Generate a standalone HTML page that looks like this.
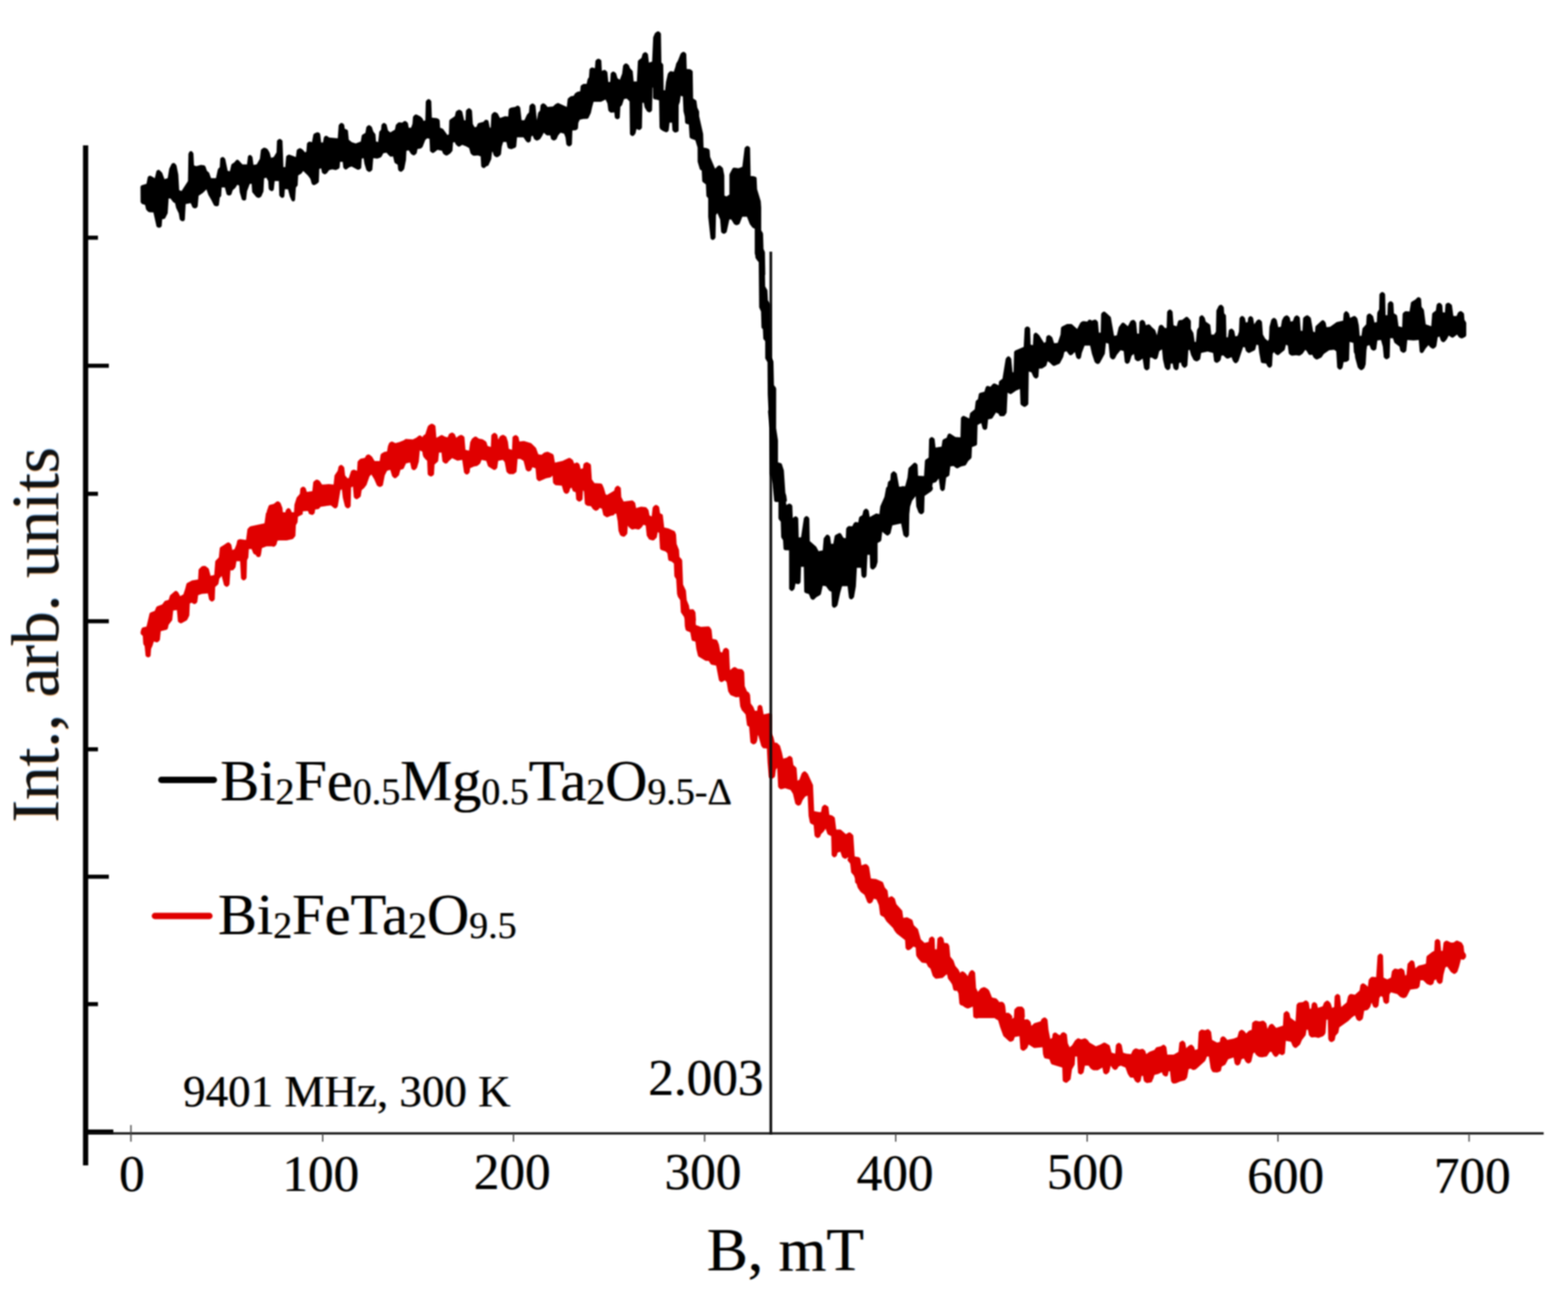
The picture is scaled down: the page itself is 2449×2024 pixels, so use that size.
<!DOCTYPE html>
<html>
<head>
<meta charset="utf-8">
<title>EPR spectra</title>
<style>
html,body{margin:0;padding:0;background:#fff;}
body{width:2449px;height:2024px;overflow:hidden;position:relative;font-family:"Liberation Serif","DejaVu Serif",serif;color:#000;}
svg{position:absolute;left:0;top:0;}
.t{position:absolute;white-space:nowrap;line-height:1;margin:0;padding:0;filter:blur(0.8px);text-shadow:-1.3px 0 0 rgba(255,130,0,0.55),1.3px 0 0 rgba(0,130,255,0.55);}
.tick{font-size:80px;}
sub{font-size:0.65em;vertical-align:baseline;position:relative;top:0.1em;line-height:0;}
</style>
</head>
<body>
<svg width="2449" height="2024" viewBox="0 0 2449 2024">
<defs>
<filter id="b1" x="0" y="0" width="2449" height="2024" filterUnits="userSpaceOnUse" color-interpolation-filters="sRGB">
<feGaussianBlur in="SourceGraphic" stdDeviation="0.9"/>
</filter>
</defs>
<rect width="2449" height="2024" fill="#fff"/>
<!-- x axis -->
<rect x="134" y="1768.3" width="2277" height="3.5" fill="#111" filter="url(#b1)"/>
<!-- x ticks -->
<g fill="#444" filter="url(#b1)">
<rect x="203.5" y="1757" width="2" height="26"/>
<rect x="503" y="1770" width="2" height="13"/>
<rect x="801" y="1770" width="2" height="13"/>
<rect x="1099.5" y="1770" width="2" height="13"/>
<rect x="1398" y="1770" width="2" height="13"/>
<rect x="1697" y="1770" width="2" height="13"/>
<rect x="1995" y="1770" width="2" height="13"/>
<rect x="2293.5" y="1770" width="2" height="13"/>
</g>
<path fill="#e00000" fill-rule="evenodd" filter="url(#b1)" d="M223.0 993.0 L223.7 1005.0 L224.3 1006.7 L225.9 1009.0 L227.4 1024.1 L227.9 1024.9 L229.9 1026.3 L232.0 1026.8 L234.2 1025.5 L235.2 1024.2 L236.0 1013.2 L238.2 1008.6 L240.3 1001.7 L243.7 1003.1 L245.3 1003.3 L246.8 1002.6 L248.7 1001.0 L249.8 999.0 L251.1 985.8 L260.1 983.4 L262.0 981.9 L263.4 975.7 L269.0 968.5 L270.6 953.4 L276.3 952.7 L277.8 970.2 L278.7 971.5 L281.1 973.3 L283.2 973.5 L291.4 969.0 L292.6 967.7 L295.7 961.3 L296.5 942.6 L299.4 941.2 L302.0 942.9 L303.7 943.4 L305.4 942.9 L307.5 941.3 L308.2 939.8 L309.5 929.6 L315.4 927.4 L324.6 926.8 L326.5 935.8 L327.1 937.0 L329.8 939.3 L331.5 939.5 L333.0 938.8 L334.9 937.1 L335.4 935.5 L336.1 916.7 L340.3 913.0 L341.1 911.9 L342.6 903.7 L346.2 899.4 L349.9 913.7 L352.2 915.8 L353.7 916.4 L355.3 916.2 L357.4 914.6 L358.5 912.5 L359.9 890.8 L362.8 890.7 L364.4 890.2 L367.2 887.1 L367.9 885.6 L369.3 876.4 L375.0 876.4 L376.4 902.4 L376.9 903.9 L378.8 905.7 L380.3 906.4 L382.0 906.1 L384.0 904.6 L385.1 902.3 L385.8 875.1 L387.9 870.6 L388.7 857.6 L393.0 857.6 L395.4 863.8 L396.3 864.9 L400.0 866.9 L400.4 868.5 L401.5 869.6 L403.0 870.0 L405.0 869.9 L406.3 869.2 L407.1 867.8 L407.9 864.6 L409.1 856.1 L416.3 853.3 L424.9 853.3 L427.0 854.0 L428.4 853.8 L430.7 851.9 L431.9 849.9 L433.3 844.5 L436.2 844.0 L447.8 843.9 L456.6 842.0 L457.8 841.5 L461.4 836.9 L462.1 820.2 L464.7 815.8 L465.4 807.0 L472.3 803.4 L473.0 801.9 L472.7 800.0 L473.5 798.6 L480.6 797.9 L481.8 799.8 L482.1 801.5 L482.9 802.7 L487.6 804.2 L489.0 803.8 L491.4 801.4 L492.2 795.7 L497.5 794.9 L498.7 794.0 L500.8 791.4 L516.7 789.2 L521.8 793.5 L523.4 794.1 L525.0 793.7 L526.8 792.1 L527.6 790.4 L531.7 765.7 L533.9 764.1 L535.4 777.2 L538.7 790.4 L539.7 792.0 L542.1 793.8 L544.5 793.8 L547.1 791.6 L547.7 790.0 L548.4 761.2 L551.2 759.7 L552.6 775.7 L553.1 777.2 L555.8 779.5 L558.2 779.5 L562.5 776.3 L563.4 775.1 L564.9 765.5 L568.7 762.3 L572.5 757.2 L577.1 744.0 L580.0 741.0 L584.4 748.3 L588.8 758.2 L591.4 760.1 L593.0 760.6 L594.6 760.2 L596.8 759.0 L598.0 757.7 L600.9 742.6 L604.5 735.2 L609.5 733.8 L612.5 743.8 L615.4 746.6 L616.8 747.1 L618.9 746.3 L623.1 742.3 L625.4 733.8 L629.0 732.7 L630.5 731.8 L634.1 723.7 L640.5 722.3 L642.7 731.9 L643.7 733.0 L645.7 734.2 L648.1 734.0 L651.2 730.8 L654.1 721.1 L655.7 703.6 L659.2 705.0 L659.9 706.7 L660.2 710.1 L661.6 713.9 L663.0 715.2 L664.2 717.0 L667.1 719.4 L668.0 740.5 L669.1 742.2 L672.6 744.2 L674.7 743.7 L676.8 742.2 L677.9 740.7 L678.7 725.5 L683.5 721.3 L684.4 720.1 L685.7 706.8 L689.5 706.8 L691.0 720.3 L691.9 721.6 L694.7 723.8 L696.3 724.1 L698.7 723.2 L700.2 721.1 L706.1 715.4 L714.4 719.5 L721.9 718.3 L724.8 738.0 L727.2 740.4 L728.7 741.1 L730.3 740.9 L733.0 738.6 L733.6 737.2 L734.2 731.2 L740.5 728.4 L744.9 727.7 L746.3 727.1 L749.9 724.0 L752.2 718.3 L759.4 719.7 L761.9 727.3 L762.6 728.5 L770.5 733.6 L771.9 734.1 L774.0 733.4 L776.6 730.8 L778.1 719.7 L785.3 718.3 L788.2 721.4 L790.9 735.9 L791.4 737.2 L794.5 739.9 L795.8 740.5 L802.2 740.5 L805.9 737.8 L806.8 736.5 L808.4 716.8 L812.7 716.8 L817.7 719.7 L821.3 733.7 L824.0 735.9 L824.8 736.3 L826.5 736.3 L829.1 734.7 L830.0 733.7 L831.4 729.8 L836.4 731.2 L837.9 748.1 L840.6 751.1 L842.7 751.5 L852.9 747.1 L860.1 745.5 L863.1 742.8 L863.7 753.1 L864.1 754.5 L866.6 757.1 L867.8 757.8 L877.5 758.6 L880.1 767.8 L881.1 769.3 L882.8 770.7 L885.1 771.3 L886.6 770.7 L888.2 769.3 L889.2 767.7 L890.5 762.9 L892.6 761.5 L894.7 766.7 L896.1 767.7 L899.1 768.7 L899.9 779.7 L900.8 781.0 L903.6 783.3 L906.1 783.3 L908.9 781.0 L909.8 779.7 L910.6 765.8 L912.1 767.4 L913.4 785.9 L914.0 787.6 L914.7 788.2 L917.5 790.0 L922.9 790.6 L926.2 795.2 L929.6 797.5 L931.2 797.7 L934.6 796.1 L936.5 793.2 L940.1 794.6 L942.3 804.2 L943.4 805.3 L947.3 807.7 L948.8 807.8 L954.1 805.4 L958.2 804.8 L959.4 803.8 L960.0 802.6 L962.5 802.1 L964.7 813.7 L966.0 829.0 L968.5 835.4 L970.2 837.1 L972.9 838.1 L974.6 838.3 L976.1 837.5 L979.4 834.0 L979.8 832.6 L980.5 820.9 L982.9 823.9 L986.4 826.7 L987.8 827.0 L992.0 825.9 L997.0 827.0 L998.4 826.7 L1001.8 824.0 L1005.0 819.4 L1008.5 820.8 L1010.1 836.6 L1013.5 842.0 L1014.7 842.7 L1019.1 844.1 L1021.4 843.8 L1025.7 839.5 L1027.3 830.9 L1029.4 832.3 L1030.8 856.2 L1031.2 857.6 L1032.8 858.9 L1039.5 861.2 L1042.3 863.9 L1043.6 873.6 L1044.3 875.2 L1045.8 876.1 L1048.9 877.0 L1052.5 879.9 L1053.2 899.2 L1053.7 900.7 L1056.1 904.5 L1057.5 928.0 L1058.3 930.0 L1058.5 931.6 L1062.3 937.2 L1063.4 956.2 L1068.4 963.5 L1069.1 967.1 L1069.6 977.8 L1070.9 983.8 L1072.5 985.3 L1078.1 987.6 L1080.3 999.5 L1081.4 1000.7 L1086.1 1002.0 L1087.6 1013.7 L1090.1 1023.9 L1090.8 1025.2 L1102.0 1032.1 L1107.0 1032.3 L1109.9 1036.9 L1111.1 1038.0 L1118.5 1039.5 L1122.9 1062.4 L1125.4 1064.9 L1126.9 1065.3 L1128.4 1064.8 L1132.2 1062.5 L1134.9 1065.2 L1137.3 1079.8 L1140.9 1085.4 L1149.5 1089.0 L1154.5 1088.5 L1156.1 1103.2 L1158.5 1109.0 L1164.5 1115.8 L1166.7 1132.3 L1167.5 1133.4 L1170.0 1134.9 L1172.0 1158.7 L1172.5 1160.0 L1175.6 1162.2 L1177.2 1162.6 L1178.7 1162.1 L1181.0 1160.4 L1182.7 1156.5 L1183.7 1148.0 L1184.5 1148.9 L1189.0 1165.0 L1191.8 1168.5 L1197.7 1169.1 L1198.8 1190.6 L1200.8 1212.9 L1201.2 1214.3 L1202.3 1215.3 L1205.5 1216.1 L1207.2 1215.6 L1209.8 1213.7 L1210.5 1212.2 L1211.8 1202.0 L1213.9 1199.2 L1215.3 1228.2 L1215.7 1229.6 L1217.7 1231.7 L1219.1 1232.5 L1220.7 1232.5 L1226.2 1230.9 L1234.8 1233.7 L1238.5 1239.7 L1242.2 1255.2 L1245.6 1258.1 L1247.3 1258.3 L1250.2 1256.9 L1251.1 1255.7 L1253.7 1249.4 L1257.7 1243.9 L1261.4 1242.4 L1262.9 1274.2 L1265.0 1284.7 L1266.4 1286.2 L1270.8 1288.4 L1272.2 1304.5 L1272.7 1305.9 L1275.1 1308.1 L1276.6 1308.7 L1278.3 1308.4 L1280.4 1307.3 L1281.3 1306.0 L1282.4 1302.8 L1286.4 1298.7 L1289.5 1294.2 L1292.4 1302.4 L1293.5 1303.4 L1298.2 1305.7 L1298.9 1334.8 L1299.3 1336.2 L1301.6 1338.5 L1303.0 1338.9 L1304.4 1338.6 L1306.8 1336.8 L1308.3 1331.6 L1312.6 1330.2 L1315.1 1337.9 L1316.3 1339.4 L1319.8 1341.2 L1321.3 1340.9 L1324.1 1338.9 L1325.0 1339.9 L1323.8 1341.4 L1323.6 1343.1 L1324.3 1344.5 L1327.9 1348.7 L1329.4 1362.6 L1333.7 1367.5 L1335.2 1372.1 L1335.6 1378.1 L1336.6 1379.5 L1337.7 1380.0 L1339.7 1386.5 L1344.2 1392.9 L1350.2 1397.6 L1354.7 1409.1 L1357.1 1411.0 L1359.3 1411.1 L1362.4 1409.0 L1364.7 1403.4 L1368.9 1404.8 L1372.6 1413.6 L1374.5 1427.7 L1375.0 1429.1 L1376.1 1430.0 L1380.5 1432.2 L1384.6 1439.1 L1394.7 1449.3 L1397.3 1454.0 L1400.5 1457.9 L1413.6 1468.2 L1414.4 1480.7 L1416.4 1483.2 L1417.7 1484.0 L1419.9 1483.8 L1422.6 1482.2 L1426.6 1478.3 L1430.2 1479.7 L1430.9 1491.8 L1431.4 1493.3 L1433.9 1497.1 L1439.3 1503.1 L1440.7 1503.6 L1446.7 1504.2 L1449.7 1509.9 L1453.2 1512.8 L1456.9 1524.3 L1460.1 1527.6 L1460.8 1528.2 L1462.6 1528.5 L1472.3 1527.2 L1476.9 1523.0 L1479.1 1521.5 L1480.7 1528.6 L1484.2 1533.1 L1487.1 1537.6 L1489.0 1545.8 L1490.8 1547.3 L1495.0 1547.4 L1497.0 1551.5 L1498.4 1567.1 L1499.5 1569.1 L1500.7 1569.9 L1503.1 1570.5 L1507.4 1573.4 L1510.9 1575.0 L1512.9 1574.8 L1519.4 1571.9 L1520.1 1587.1 L1520.5 1588.6 L1521.6 1589.6 L1525.6 1590.7 L1527.6 1590.0 L1553.5 1590.0 L1554.9 1591.3 L1558.9 1593.6 L1562.0 1603.9 L1567.1 1618.1 L1576.4 1626.4 L1578.7 1627.0 L1582.3 1625.5 L1583.3 1624.2 L1585.0 1619.6 L1592.2 1618.2 L1593.7 1637.8 L1594.8 1639.2 L1597.4 1640.9 L1599.8 1640.8 L1603.8 1637.4 L1604.7 1636.2 L1606.6 1631.2 L1614.3 1636.3 L1615.6 1636.8 L1628.2 1635.5 L1629.0 1645.9 L1630.5 1651.0 L1631.4 1652.4 L1632.9 1653.1 L1639.0 1654.2 L1641.4 1660.7 L1642.7 1662.3 L1659.1 1667.2 L1659.8 1687.0 L1660.3 1688.5 L1661.5 1689.6 L1664.5 1691.0 L1665.9 1690.9 L1667.1 1690.3 L1671.3 1686.6 L1672.1 1685.5 L1674.3 1670.0 L1678.5 1662.8 L1679.3 1649.9 L1682.2 1649.9 L1683.7 1675.0 L1684.3 1676.2 L1687.1 1677.9 L1688.8 1677.9 L1689.6 1677.6 L1692.3 1675.3 L1694.5 1664.3 L1700.2 1664.3 L1703.1 1668.5 L1706.6 1671.0 L1708.3 1671.5 L1714.6 1671.4 L1721.8 1667.2 L1723.3 1675.3 L1724.3 1676.5 L1727.1 1677.9 L1729.3 1677.2 L1732.5 1674.3 L1734.8 1664.3 L1738.0 1668.9 L1740.5 1670.8 L1742.1 1671.0 L1744.9 1669.6 L1747.0 1665.7 L1750.6 1664.3 L1757.8 1667.2 L1761.3 1676.9 L1764.1 1681.6 L1765.9 1682.9 L1770.0 1683.0 L1773.0 1688.7 L1776.4 1690.9 L1778.1 1690.9 L1778.9 1690.5 L1781.5 1688.2 L1783.0 1680.2 L1785.2 1680.2 L1786.4 1687.5 L1787.7 1689.5 L1791.2 1691.5 L1797.5 1690.6 L1799.5 1689.2 L1800.0 1686.7 L1801.2 1685.1 L1803.1 1678.8 L1809.1 1677.2 L1814.6 1674.5 L1816.4 1678.9 L1819.7 1681.1 L1821.1 1681.2 L1823.1 1680.4 L1824.0 1679.3 L1825.4 1673.0 L1827.3 1673.0 L1829.1 1688.8 L1831.3 1691.7 L1833.5 1692.2 L1837.1 1691.8 L1843.2 1688.9 L1850.8 1687.0 L1854.1 1683.0 L1856.4 1670.1 L1859.2 1668.7 L1863.1 1671.1 L1864.9 1671.1 L1867.8 1670.0 L1882.2 1657.1 L1885.2 1650.0 L1888.0 1650.0 L1890.8 1668.2 L1893.0 1673.0 L1894.7 1674.4 L1901.0 1675.1 L1905.2 1673.6 L1906.4 1672.7 L1907.1 1671.4 L1908.2 1665.8 L1913.8 1662.8 L1918.3 1654.3 L1926.7 1651.4 L1928.4 1661.0 L1930.7 1663.5 L1933.1 1664.1 L1934.6 1663.5 L1936.9 1661.4 L1939.2 1654.3 L1942.7 1652.9 L1945.7 1658.5 L1948.3 1660.4 L1949.1 1660.7 L1950.8 1660.7 L1953.3 1659.3 L1954.5 1657.4 L1957.2 1645.6 L1959.3 1643.5 L1961.9 1647.4 L1965.1 1650.1 L1966.7 1650.8 L1971.1 1651.3 L1978.2 1649.9 L1979.4 1648.8 L1983.3 1642.7 L1985.9 1642.8 L1988.3 1647.3 L1990.2 1649.6 L1991.5 1650.5 L1993.1 1650.6 L1994.6 1649.9 L1998.2 1645.7 L2001.6 1647.8 L2003.4 1647.8 L2006.3 1645.8 L2006.9 1644.2 L2008.3 1625.5 L2016.2 1626.9 L2019.2 1634.0 L2022.1 1636.5 L2024.6 1636.4 L2030.5 1631.2 L2033.6 1623.9 L2039.2 1616.8 L2040.7 1608.2 L2042.8 1608.2 L2044.4 1616.8 L2047.6 1619.9 L2049.3 1620.2 L2053.9 1619.8 L2059.4 1621.0 L2066.6 1618.2 L2069.2 1615.6 L2070.3 1613.0 L2071.7 1592.4 L2073.8 1592.5 L2074.6 1622.6 L2075.4 1624.6 L2076.9 1626.5 L2079.4 1627.5 L2080.8 1627.3 L2084.2 1624.9 L2084.8 1623.5 L2086.0 1617.5 L2090.2 1613.1 L2091.9 1604.4 L2105.9 1594.6 L2111.8 1588.8 L2116.2 1585.8 L2118.7 1591.9 L2120.2 1593.5 L2123.4 1594.7 L2124.9 1594.1 L2127.5 1592.3 L2128.7 1590.3 L2130.7 1578.6 L2135.5 1577.4 L2137.0 1576.4 L2140.0 1572.8 L2142.2 1565.7 L2144.5 1571.5 L2145.6 1572.9 L2147.8 1573.8 L2149.3 1573.9 L2150.7 1573.2 L2152.5 1571.6 L2153.1 1570.2 L2154.4 1558.4 L2156.6 1555.6 L2159.4 1557.0 L2160.7 1564.3 L2161.4 1565.8 L2164.3 1567.8 L2166.1 1567.8 L2168.8 1566.0 L2169.5 1564.8 L2170.2 1552.9 L2172.4 1549.8 L2182.3 1552.6 L2186.9 1556.9 L2191.4 1558.7 L2193.8 1558.6 L2196.0 1557.4 L2197.4 1556.1 L2202.7 1545.5 L2213.8 1544.0 L2216.4 1541.8 L2217.2 1540.2 L2218.5 1531.1 L2222.8 1531.1 L2228.6 1536.8 L2233.1 1538.5 L2234.7 1538.7 L2238.1 1536.9 L2239.0 1535.5 L2240.1 1531.1 L2243.0 1529.6 L2244.2 1533.1 L2245.1 1534.5 L2247.5 1536.4 L2250.0 1536.4 L2252.2 1534.7 L2253.0 1533.5 L2254.5 1522.3 L2257.4 1510.9 L2260.3 1509.5 L2266.1 1518.0 L2270.6 1520.9 L2272.8 1520.7 L2275.5 1518.6 L2276.4 1517.3 L2279.0 1509.3 L2281.9 1498.0 L2285.0 1498.9 L2286.4 1498.6 L2287.5 1497.8 L2289.7 1494.7 L2289.7 1490.8 L2286.9 1486.4 L2285.9 1477.3 L2282.9 1471.9 L2276.2 1468.9 L2274.7 1469.0 L2270.1 1472.0 L2266.0 1472.0 L2260.6 1469.3 L2258.1 1469.2 L2255.4 1471.2 L2254.6 1472.5 L2253.1 1485.0 L2250.9 1485.0 L2249.4 1469.6 L2247.1 1467.1 L2244.7 1466.5 L2243.2 1467.1 L2240.9 1469.6 L2240.1 1485.0 L2237.0 1486.6 L2228.9 1492.8 L2228.0 1494.1 L2227.1 1505.1 L2222.7 1506.6 L2215.7 1508.1 L2210.6 1512.3 L2209.1 1502.7 L2208.3 1501.5 L2206.3 1500.0 L2204.1 1499.8 L2202.9 1500.6 L2199.1 1504.4 L2198.4 1505.5 L2196.7 1522.5 L2194.8 1523.8 L2193.3 1515.6 L2192.4 1514.5 L2189.7 1512.4 L2188.1 1512.1 L2183.9 1513.7 L2179.8 1512.7 L2178.3 1512.8 L2177.0 1513.5 L2174.0 1516.7 L2172.4 1526.7 L2166.7 1529.6 L2160.9 1526.7 L2160.1 1492.6 L2159.3 1491.3 L2157.4 1489.5 L2155.1 1489.2 L2152.3 1491.4 L2151.5 1493.3 L2149.4 1526.0 L2142.7 1525.5 L2141.2 1526.3 L2138.6 1528.9 L2137.7 1530.6 L2136.4 1541.1 L2133.3 1538.1 L2129.8 1535.8 L2128.2 1535.7 L2126.7 1536.5 L2125.0 1538.3 L2124.7 1539.2 L2123.4 1546.9 L2116.2 1553.4 L2109.9 1552.2 L2107.9 1553.1 L2106.1 1554.9 L2105.3 1556.4 L2103.3 1565.6 L2094.7 1572.8 L2093.1 1555.3 L2092.2 1554.0 L2089.7 1552.3 L2087.5 1552.7 L2084.9 1555.3 L2084.5 1556.7 L2083.8 1572.8 L2080.2 1573.9 L2079.9 1571.7 L2078.1 1566.5 L2075.2 1563.5 L2073.1 1562.6 L2071.6 1563.0 L2068.1 1565.7 L2065.8 1571.4 L2058.4 1574.1 L2056.9 1567.7 L2054.0 1565.3 L2051.6 1565.2 L2050.3 1566.1 L2048.7 1568.3 L2047.9 1575.0 L2045.7 1575.7 L2044.1 1565.8 L2041.1 1562.7 L2038.6 1562.5 L2034.9 1564.9 L2028.2 1565.8 L2026.9 1566.7 L2025.0 1569.3 L2023.4 1595.2 L2015.5 1589.4 L2013.9 1582.3 L2011.1 1579.4 L2008.9 1579.1 L2005.7 1581.4 L2004.8 1582.8 L2003.8 1601.8 L1993.2 1605.3 L1988.4 1599.8 L1987.0 1599.0 L1985.4 1599.1 L1982.4 1601.0 L1979.5 1606.7 L1977.9 1598.2 L1974.3 1594.5 L1972.1 1594.1 L1967.2 1595.2 L1961.9 1594.0 L1960.4 1594.1 L1957.1 1595.9 L1955.7 1597.5 L1955.0 1608.2 L1950.7 1609.7 L1946.3 1613.9 L1943.8 1610.8 L1941.0 1608.8 L1939.6 1608.3 L1938.0 1608.5 L1935.0 1611.1 L1932.6 1619.7 L1926.8 1621.9 L1916.8 1624.0 L1914.9 1621.4 L1912.3 1619.1 L1909.9 1618.5 L1908.4 1619.1 L1906.4 1620.9 L1905.9 1622.3 L1905.3 1626.9 L1901.0 1628.3 L1893.1 1624.0 L1891.6 1611.5 L1888.7 1608.2 L1887.5 1607.4 L1886.1 1607.3 L1882.3 1608.9 L1876.6 1607.8 L1873.2 1610.2 L1872.1 1612.4 L1870.7 1638.4 L1866.4 1639.8 L1864.9 1634.9 L1861.8 1631.8 L1860.2 1631.4 L1858.6 1632.0 L1855.8 1634.0 L1852.7 1636.9 L1851.2 1628.4 L1848.3 1625.5 L1846.2 1625.2 L1842.8 1627.6 L1842.0 1628.8 L1840.5 1642.7 L1833.1 1647.1 L1823.2 1647.0 L1821.7 1635.2 L1819.4 1632.4 L1817.4 1631.6 L1816.0 1631.9 L1813.1 1634.1 L1806.4 1635.6 L1805.2 1636.6 L1803.0 1639.8 L1795.5 1642.5 L1790.2 1646.2 L1788.7 1641.3 L1785.8 1638.4 L1784.3 1637.9 L1779.4 1639.0 L1774.4 1637.3 L1772.4 1637.8 L1769.4 1639.9 L1766.4 1646.2 L1759.1 1645.5 L1754.2 1644.1 L1751.9 1631.9 L1749.7 1629.5 L1747.7 1628.6 L1745.6 1629.3 L1743.7 1631.0 L1742.8 1632.4 L1741.8 1645.5 L1736.2 1644.1 L1733.3 1633.1 L1732.2 1631.9 L1726.2 1628.5 L1723.9 1628.2 L1718.8 1631.2 L1711.7 1634.0 L1701.8 1628.3 L1698.7 1624.0 L1695.7 1621.9 L1694.4 1621.4 L1688.7 1623.2 L1684.5 1621.6 L1682.9 1621.8 L1679.0 1625.1 L1674.4 1632.4 L1670.7 1635.4 L1667.8 1629.4 L1666.3 1615.8 L1665.4 1614.5 L1662.7 1612.4 L1661.2 1612.1 L1658.1 1613.1 L1655.5 1616.7 L1652.8 1615.4 L1649.4 1612.7 L1647.2 1612.6 L1645.2 1613.8 L1644.1 1615.1 L1643.3 1621.0 L1640.4 1622.5 L1637.6 1608.2 L1636.1 1592.7 L1635.3 1591.5 L1632.9 1589.2 L1631.3 1588.9 L1629.7 1589.4 L1626.8 1591.6 L1625.3 1595.1 L1615.3 1598.1 L1610.9 1602.3 L1609.7 1596.2 L1608.6 1594.5 L1606.2 1592.4 L1604.7 1591.7 L1600.1 1592.2 L1600.0 1590.0 L1600.7 1587.9 L1600.2 1577.2 L1599.5 1575.4 L1597.4 1573.0 L1596.0 1572.0 L1590.4 1571.9 L1588.5 1572.6 L1584.7 1576.0 L1584.2 1577.5 L1583.5 1589.4 L1580.7 1590.8 L1580.5 1590.0 L1581.1 1588.6 L1580.9 1586.9 L1577.4 1583.0 L1574.3 1581.6 L1571.2 1582.0 L1570.0 1571.3 L1569.1 1568.2 L1568.4 1567.0 L1566.6 1565.2 L1565.0 1564.4 L1560.3 1564.8 L1559.4 1562.8 L1556.0 1559.2 L1549.4 1557.8 L1545.0 1547.0 L1542.8 1544.4 L1538.1 1541.7 L1536.0 1541.7 L1531.8 1543.4 L1527.4 1549.0 L1524.5 1543.1 L1523.0 1519.0 L1520.5 1516.0 L1518.3 1515.1 L1516.7 1515.6 L1515.0 1516.9 L1513.4 1519.5 L1511.5 1524.5 L1509.0 1521.1 L1506.5 1518.6 L1503.9 1517.0 L1501.5 1517.3 L1500.4 1518.4 L1500.0 1519.9 L1496.9 1514.0 L1492.1 1508.5 L1489.2 1499.9 L1484.2 1494.1 L1482.7 1476.9 L1480.8 1473.8 L1479.7 1472.9 L1474.8 1472.5 L1473.6 1466.3 L1472.6 1464.6 L1470.2 1462.8 L1468.6 1462.5 L1465.2 1464.4 L1464.1 1465.9 L1463.1 1482.6 L1460.4 1482.6 L1459.8 1466.6 L1459.2 1465.1 L1457.3 1463.3 L1455.8 1462.6 L1454.2 1462.9 L1451.5 1465.1 L1450.9 1466.5 L1450.3 1471.0 L1444.0 1472.5 L1438.2 1466.9 L1433.7 1451.0 L1427.3 1445.1 L1425.1 1437.0 L1423.9 1435.9 L1416.8 1432.4 L1410.8 1433.6 L1409.2 1422.2 L1400.0 1412.0 L1397.6 1403.4 L1394.3 1400.4 L1393.0 1399.8 L1391.6 1399.8 L1387.7 1401.9 L1386.2 1390.8 L1381.9 1386.1 L1379.1 1378.0 L1377.8 1376.9 L1368.2 1372.7 L1360.2 1371.9 L1357.5 1354.6 L1356.5 1352.5 L1354.3 1350.3 L1352.8 1349.5 L1351.1 1349.6 L1345.5 1351.6 L1344.0 1341.8 L1343.5 1340.5 L1341.7 1338.7 L1334.9 1337.4 L1332.8 1305.5 L1332.3 1304.0 L1328.7 1300.7 L1327.3 1300.0 L1325.8 1300.1 L1321.2 1302.8 L1313.6 1296.0 L1312.2 1295.6 L1306.1 1295.6 L1303.9 1277.4 L1303.0 1276.1 L1299.6 1273.4 L1295.3 1272.6 L1294.0 1261.1 L1293.3 1259.4 L1289.3 1256.9 L1287.8 1256.8 L1286.4 1257.4 L1283.8 1260.0 L1282.3 1268.2 L1279.3 1268.2 L1271.6 1266.8 L1269.8 1225.9 L1261.7 1208.4 L1258.5 1205.3 L1257.2 1204.6 L1255.0 1205.0 L1252.2 1207.8 L1248.5 1217.8 L1245.6 1219.3 L1244.1 1199.6 L1243.2 1198.3 L1239.2 1194.8 L1237.8 1184.5 L1237.3 1183.1 L1234.6 1180.8 L1233.0 1180.6 L1231.4 1181.3 L1229.0 1183.3 L1223.3 1184.7 L1221.1 1174.6 L1218.2 1164.6 L1213.7 1160.2 L1212.4 1159.7 L1210.2 1159.9 L1207.9 1150.9 L1205.6 1146.9 L1204.9 1143.8 L1204.9 1116.8 L1204.5 1115.2 L1203.3 1114.1 L1201.3 1113.7 L1192.7 1115.8 L1190.5 1103.3 L1188.8 1101.4 L1187.3 1100.8 L1185.0 1101.4 L1183.4 1103.3 L1182.6 1110.0 L1179.0 1110.0 L1176.6 1103.9 L1172.5 1098.5 L1171.5 1085.0 L1169.5 1081.3 L1166.8 1079.8 L1163.2 1071.4 L1162.4 1050.4 L1161.9 1048.8 L1160.3 1046.4 L1159.0 1045.3 L1158.1 1045.1 L1152.3 1044.5 L1149.1 1042.2 L1147.7 1041.7 L1145.5 1042.3 L1140.1 1046.6 L1138.7 1016.1 L1138.3 1014.7 L1135.4 1011.9 L1133.0 1011.7 L1130.1 1013.6 L1127.8 1019.3 L1125.0 1017.8 L1122.9 1006.6 L1120.2 1000.0 L1118.3 998.8 L1112.8 997.7 L1111.4 984.1 L1110.8 982.6 L1108.7 979.6 L1107.5 978.6 L1106.0 978.3 L1094.7 979.0 L1086.8 976.1 L1086.6 970.2 L1087.0 968.4 L1086.2 956.2 L1083.8 952.6 L1082.5 951.6 L1081.0 951.4 L1077.0 951.7 L1076.1 945.7 L1072.6 937.2 L1071.3 922.2 L1066.9 913.0 L1065.5 875.3 L1064.6 873.3 L1061.2 869.8 L1060.5 858.8 L1056.8 849.4 L1055.9 834.8 L1054.4 830.7 L1053.5 829.4 L1044.1 825.2 L1037.4 823.7 L1035.2 804.4 L1034.4 803.2 L1030.9 801.4 L1029.6 792.6 L1029.0 791.1 L1026.3 789.1 L1024.9 788.5 L1023.3 788.8 L1020.3 791.2 L1019.3 793.2 L1017.9 806.4 L1014.5 805.0 L1012.8 796.4 L1009.5 792.4 L1008.0 791.9 L1001.2 791.3 L993.5 793.4 L992.0 785.2 L988.7 782.1 L987.2 781.4 L974.0 783.3 L970.4 776.2 L969.6 762.3 L968.7 760.9 L965.4 758.6 L963.3 759.0 L961.0 761.1 L960.1 762.7 L959.3 766.2 L948.0 773.0 L946.0 772.0 L943.1 762.0 L940.4 756.0 L938.2 754.9 L928.5 754.4 L924.4 748.8 L923.0 726.5 L921.8 724.2 L920.0 723.6 L917.9 722.0 L917.0 721.7 L915.3 722.0 L912.8 723.3 L911.3 724.9 L910.6 731.2 L907.0 732.6 L905.2 725.4 L904.3 723.9 L902.0 722.6 L900.5 722.3 L896.9 724.0 L894.6 718.3 L890.4 715.3 L888.2 715.3 L878.8 719.7 L866.7 722.6 L864.8 711.2 L863.7 709.3 L856.2 705.8 L854.8 705.5 L850.1 706.8 L845.8 710.3 L840.8 709.6 L837.1 699.6 L830.5 692.9 L829.2 692.1 L818.4 688.8 L811.2 689.4 L809.8 682.6 L807.2 680.1 L805.8 679.5 L803.6 680.0 L801.6 681.4 L800.5 682.8 L799.7 702.4 L794.7 701.0 L793.3 689.7 L790.7 682.1 L786.7 679.3 L784.5 679.3 L780.9 681.2 L778.1 686.5 L776.9 679.7 L776.3 678.5 L773.6 676.2 L771.9 676.0 L770.4 676.7 L768.3 678.5 L767.4 679.9 L766.6 698.1 L761.6 696.6 L759.7 690.5 L758.4 688.9 L753.6 685.9 L747.9 685.1 L744.0 681.9 L742.4 681.7 L740.9 682.3 L737.1 685.2 L734.4 690.4 L732.6 703.8 L727.0 702.4 L725.4 682.8 L724.4 681.4 L722.0 679.7 L720.5 679.2 L718.9 679.5 L715.9 681.0 L712.6 683.7 L710.3 678.0 L707.6 676.1 L706.1 675.6 L704.5 676.0 L701.4 677.8 L699.1 683.1 L695.1 681.9 L690.6 679.5 L689.2 679.4 L681.6 683.7 L680.1 665.5 L679.3 664.3 L676.0 662.0 L673.5 661.7 L669.9 663.9 L668.8 665.0 L667.7 667.3 L664.3 677.9 L660.8 680.4 L660.0 682.7 L656.9 680.3 L655.2 680.0 L653.7 680.7 L650.4 683.5 L644.8 686.2 L633.7 685.6 L630.3 687.8 L623.3 690.5 L617.7 692.0 L612.4 689.5 L611.0 689.8 L608.5 691.2 L607.7 692.3 L605.9 696.7 L604.5 705.0 L600.2 705.7 L595.6 708.5 L594.5 709.9 L593.0 720.1 L585.1 720.1 L581.1 713.3 L577.7 710.4 L576.3 709.7 L574.8 709.8 L572.6 710.7 L571.6 711.8 L569.9 715.0 L562.8 716.6 L559.2 720.0 L558.5 721.2 L557.7 735.2 L553.1 733.4 L551.4 733.7 L548.8 735.1 L548.0 736.4 L544.7 746.7 L542.6 746.7 L539.0 742.4 L537.7 730.5 L537.2 729.2 L534.3 726.4 L532.7 726.0 L531.2 726.5 L528.9 728.5 L527.4 735.2 L522.5 742.5 L521.0 756.8 L513.5 756.1 L503.0 756.8 L499.3 751.1 L496.2 749.2 L494.0 748.9 L490.2 751.7 L489.3 753.0 L487.8 766.9 L479.2 768.3 L477.6 762.7 L475.4 760.6 L473.0 759.9 L470.1 761.8 L469.0 763.8 L468.4 771.2 L463.4 777.0 L459.9 788.1 L459.2 800.0 L455.7 800.0 L453.6 795.3 L452.0 793.9 L450.5 793.5 L448.9 794.0 L446.7 796.4 L446.2 797.2 L445.9 800.0 L441.8 800.0 L441.1 793.2 L438.4 786.3 L437.6 785.1 L435.0 783.1 L432.6 783.1 L427.4 787.0 L421.1 788.4 L419.6 790.1 L416.7 798.2 L416.5 800.0 L415.3 801.4 L413.1 817.3 L391.0 822.1 L389.5 823.0 L386.5 826.3 L384.3 843.2 L375.0 841.9 L371.6 843.0 L370.6 844.2 L369.2 850.5 L366.4 857.4 L362.9 859.0 L361.2 850.5 L358.8 847.9 L357.3 847.1 L354.9 847.5 L349.8 851.1 L344.1 854.4 L343.2 856.3 L341.8 870.6 L336.9 875.5 L336.2 876.8 L334.6 897.9 L328.9 899.3 L326.3 888.9 L325.7 887.7 L321.3 884.3 L319.8 883.7 L316.2 884.1 L314.5 885.0 L311.0 888.5 L310.2 889.7 L309.4 905.1 L299.9 906.5 L291.9 910.8 L291.1 912.2 L289.3 919.6 L286.4 928.2 L281.4 931.0 L278.7 925.7 L276.8 923.6 L274.8 922.8 L273.4 923.1 L265.6 929.7 L263.4 936.8 L257.4 938.6 L253.3 944.0 L245.2 946.9 L244.1 948.2 L241.7 954.1 L235.3 956.4 L234.1 957.3 L233.5 958.5 L228.8 978.6 L222.6 979.9 L221.1 981.8 L219.6 986.8 L219.6 989.6 L220.6 991.0Z"/>
<!-- vertical marker line -->
<rect x="1201.8" y="393" width="4.2" height="1378" fill="#111" filter="url(#b1)"/>
<path fill="#000" fill-rule="evenodd" filter="url(#b1)" d="M226.6 320.1 L228.2 327.2 L231.5 330.8 L233.6 331.6 L239.6 331.7 L244.5 353.7 L246.2 355.2 L249.4 355.7 L251.8 354.3 L252.5 353.1 L253.3 342.5 L256.8 341.8 L257.9 340.9 L261.9 333.1 L263.4 310.1 L266.2 310.0 L270.6 315.7 L273.4 317.3 L275.1 324.8 L279.2 333.3 L280.7 342.6 L281.8 343.9 L283.7 345.2 L285.7 345.6 L287.5 344.9 L288.7 342.7 L290.0 318.7 L297.9 317.3 L300.3 323.1 L301.4 324.5 L304.3 325.5 L306.4 324.9 L308.3 323.2 L308.8 321.7 L310.2 305.7 L316.9 301.2 L322.4 295.7 L325.5 304.6 L329.6 311.5 L334.0 320.2 L335.2 321.5 L338.9 322.2 L341.1 321.3 L341.9 320.1 L343.3 308.6 L345.1 306.7 L345.5 305.3 L346.2 292.8 L351.2 292.8 L354.0 303.4 L355.5 304.8 L358.1 305.5 L360.0 304.8 L361.3 303.7 L363.5 297.1 L367.3 293.8 L370.7 288.5 L373.4 289.8 L374.4 300.3 L377.5 310.8 L378.4 312.3 L379.2 312.7 L381.9 313.3 L383.5 312.5 L384.4 311.3 L385.8 298.7 L390.1 287.2 L393.0 287.0 L393.9 299.9 L400.3 307.8 L403.2 308.9 L404.9 308.9 L408.0 307.0 L411.5 299.0 L412.5 278.4 L416.0 277.6 L418.9 282.7 L419.6 294.3 L420.6 296.5 L423.6 298.5 L425.1 298.4 L426.8 297.4 L427.7 295.6 L429.0 282.7 L435.5 282.7 L436.2 304.5 L436.6 306.0 L438.6 308.1 L439.9 308.9 L441.3 309.0 L442.6 308.4 L443.7 307.4 L444.2 305.8 L444.9 295.6 L449.9 295.7 L452.7 306.9 L455.2 312.8 L456.9 314.4 L458.4 314.6 L459.9 313.9 L460.9 311.8 L462.1 292.9 L464.9 289.4 L465.7 274.0 L470.7 271.1 L473.6 266.9 L480.8 273.9 L484.7 279.2 L487.0 287.2 L489.2 289.0 L491.3 289.1 L495.0 287.0 L497.3 284.9 L498.0 283.7 L498.7 264.1 L500.0 263.3 L501.6 262.9 L502.8 268.9 L503.5 270.3 L506.2 272.1 L507.7 272.2 L510.6 270.4 L514.0 265.7 L518.9 264.4 L523.6 265.5 L525.0 265.5 L529.5 263.2 L530.5 261.2 L531.1 252.8 L535.3 252.8 L536.2 261.8 L538.4 264.3 L539.8 264.7 L541.3 264.4 L545.1 261.4 L549.1 260.1 L558.3 264.9 L560.7 265.1 L563.5 263.3 L564.2 262.1 L565.0 247.8 L567.8 247.1 L569.3 255.9 L572.3 265.7 L575.4 268.3 L577.7 268.4 L580.4 266.6 L581.5 265.2 L583.0 247.1 L589.4 247.7 L594.2 246.0 L595.8 244.7 L598.8 239.2 L603.8 238.5 L606.2 241.5 L609.1 244.3 L610.4 244.7 L613.9 244.2 L616.1 253.7 L617.3 254.9 L621.1 257.2 L621.8 264.5 L622.3 266.0 L624.7 268.0 L626.9 268.2 L628.1 267.5 L630.6 265.0 L631.4 263.5 L634.1 249.7 L634.8 235.6 L638.4 234.8 L642.1 240.5 L645.2 242.6 L647.4 242.4 L650.7 239.5 L652.1 232.7 L657.1 231.9 L659.9 229.7 L664.3 218.5 L667.2 216.1 L670.8 216.8 L671.6 235.8 L672.6 237.1 L675.5 239.1 L677.7 238.6 L683.3 234.1 L690.3 235.6 L692.0 239.7 L693.3 241.1 L696.7 242.9 L699.0 242.5 L703.5 239.5 L706.7 235.5 L707.6 222.6 L710.2 221.9 L711.9 225.4 L714.5 228.1 L715.9 228.9 L717.5 228.9 L722.0 226.2 L727.8 228.4 L732.7 231.2 L735.1 239.8 L738.3 242.7 L740.5 243.3 L746.4 242.8 L750.7 244.2 L751.6 259.5 L752.5 260.9 L754.3 262.3 L756.5 262.4 L760.0 259.5 L762.1 258.9 L763.1 257.7 L767.3 248.4 L768.5 237.6 L769.4 237.0 L770.7 241.3 L771.9 243.4 L775.0 245.4 L776.7 245.4 L778.9 244.4 L781.8 242.0 L782.5 240.4 L783.7 229.0 L785.9 221.7 L790.9 221.7 L792.7 229.9 L794.2 231.9 L798.9 233.0 L805.1 230.5 L806.3 228.4 L807.5 214.5 L817.6 214.5 L821.6 220.5 L824.0 222.4 L826.2 222.6 L828.8 220.4 L829.9 213.0 L831.9 211.7 L834.3 217.2 L837.7 219.5 L839.3 219.6 L842.9 217.7 L843.9 216.7 L846.5 212.8 L849.3 207.3 L853.4 211.1 L854.9 211.6 L859.4 211.6 L860.5 216.2 L861.2 217.5 L863.5 219.1 L865.1 219.6 L866.8 219.1 L869.3 217.2 L871.8 211.4 L875.4 207.3 L881.0 208.7 L883.2 214.6 L884.6 225.5 L885.5 226.7 L887.7 228.4 L890.1 228.4 L892.8 226.2 L893.3 224.6 L894.0 203.7 L899.0 203.5 L901.2 202.3 L902.3 201.3 L902.7 199.9 L903.3 191.7 L905.5 187.1 L911.0 185.7 L917.4 185.5 L918.8 184.7 L922.8 176.6 L924.9 166.9 L927.1 159.0 L938.6 158.9 L945.8 155.4 L948.7 161.4 L950.0 171.6 L950.4 172.9 L952.7 175.2 L954.3 176.1 L959.5 175.6 L960.3 183.6 L961.4 185.0 L964.1 186.3 L966.2 185.7 L968.0 183.7 L968.9 166.9 L971.6 164.0 L974.6 154.7 L978.9 154.0 L983.2 158.3 L983.9 208.7 L984.4 210.4 L986.0 211.8 L987.4 212.5 L988.9 212.3 L990.2 211.5 L992.5 208.6 L994.1 201.5 L997.9 203.0 L999.3 202.9 L1001.8 200.9 L1002.6 199.6 L1003.4 160.4 L1005.5 160.4 L1006.9 167.8 L1010.7 174.0 L1013.7 175.5 L1015.2 175.5 L1017.7 173.5 L1018.4 172.2 L1019.3 136.7 L1020.0 136.9 L1020.0 152.3 L1020.4 153.8 L1022.2 155.2 L1024.3 155.3 L1029.3 156.8 L1030.1 198.6 L1030.9 201.0 L1032.0 202.3 L1035.3 204.4 L1039.9 206.6 L1041.6 206.5 L1043.4 205.2 L1044.4 203.8 L1045.8 191.4 L1049.5 191.4 L1050.3 203.8 L1052.7 206.3 L1053.4 206.8 L1055.2 206.9 L1058.4 206.0 L1059.9 204.2 L1060.0 164.3 L1061.8 159.3 L1063.2 149.6 L1065.5 150.6 L1066.5 150.6 L1067.5 173.7 L1069.5 181.9 L1070.1 191.5 L1071.5 193.2 L1075.8 194.4 L1077.1 214.0 L1077.6 215.3 L1079.2 216.6 L1086.0 219.1 L1089.5 230.6 L1089.6 252.4 L1093.1 264.5 L1096.0 266.4 L1096.8 283.1 L1097.9 284.6 L1102.5 288.0 L1103.3 306.3 L1106.1 309.8 L1106.1 338.6 L1109.8 372.4 L1111.8 374.4 L1113.9 374.8 L1115.7 373.8 L1117.5 371.2 L1118.3 335.8 L1120.5 332.7 L1124.8 343.0 L1126.3 362.3 L1127.5 363.7 L1129.7 365.1 L1131.4 365.1 L1132.2 364.7 L1134.9 362.4 L1139.2 342.8 L1142.1 342.8 L1146.5 349.9 L1149.3 351.6 L1150.7 351.7 L1153.9 350.5 L1155.1 349.5 L1159.4 338.4 L1166.6 338.4 L1171.2 350.3 L1175.3 355.6 L1178.8 357.2 L1178.8 395.7 L1179.8 399.8 L1179.8 402.2 L1181.5 405.2 L1185.0 409.5 L1185.7 480.0 L1188.6 486.6 L1189.3 510.8 L1189.6 512.2 L1191.5 514.0 L1192.2 529.2 L1195.1 532.7 L1195.2 559.8 L1198.7 565.8 L1199.1 616.0 L1200.3 639.8 L1199.5 642.4 L1202.1 668.9 L1202.8 740.5 L1206.4 755.3 L1209.2 782.0 L1210.0 783.2 L1211.3 783.9 L1215.8 784.0 L1215.8 809.3 L1216.5 811.2 L1219.4 814.7 L1220.1 838.4 L1220.6 839.9 L1223.0 843.5 L1223.8 857.3 L1224.6 858.5 L1225.9 859.3 L1232.4 859.4 L1232.5 919.4 L1233.3 920.7 L1235.2 922.5 L1236.7 922.9 L1238.2 922.5 L1240.9 919.8 L1242.5 911.3 L1245.8 912.2 L1247.4 912.2 L1248.8 911.4 L1250.0 910.0 L1250.4 908.6 L1251.1 885.3 L1255.4 885.3 L1256.1 923.4 L1256.5 924.9 L1258.3 926.3 L1263.3 927.8 L1266.3 934.9 L1268.4 936.6 L1270.5 936.7 L1271.7 936.0 L1275.0 932.7 L1281.0 929.2 L1282.1 928.0 L1285.0 914.8 L1290.0 915.6 L1295.1 922.6 L1298.6 924.2 L1299.3 945.8 L1300.5 948.1 L1302.5 949.2 L1304.9 948.5 L1307.2 946.4 L1308.2 944.8 L1312.3 925.7 L1315.2 915.6 L1323.8 915.6 L1325.9 933.0 L1327.0 935.0 L1328.8 936.1 L1330.3 936.0 L1331.5 935.2 L1333.8 932.8 L1336.8 915.4 L1338.3 886.8 L1344.7 886.8 L1345.5 899.3 L1346.3 900.5 L1348.1 902.2 L1349.7 902.6 L1351.3 902.1 L1352.7 900.5 L1353.4 898.7 L1354.8 866.6 L1358.4 866.6 L1359.1 885.7 L1359.8 887.5 L1361.3 889.1 L1363.6 889.5 L1365.1 888.7 L1368.4 885.3 L1370.7 877.7 L1370.7 847.9 L1374.9 845.7 L1376.4 844.1 L1377.9 830.6 L1384.7 836.0 L1386.1 836.4 L1387.5 836.1 L1390.8 833.1 L1393.7 820.5 L1407.4 817.6 L1411.0 835.9 L1414.4 839.1 L1415.9 839.4 L1417.4 838.9 L1419.3 836.6 L1419.7 835.3 L1420.2 803.2 L1421.5 791.2 L1424.6 781.9 L1430.2 774.7 L1431.1 790.9 L1434.7 800.5 L1437.7 802.9 L1440.1 802.9 L1442.9 800.6 L1443.4 799.0 L1444.1 774.4 L1454.3 767.4 L1456.4 765.3 L1457.1 762.4 L1456.8 761.0 L1456.0 759.8 L1456.9 754.5 L1461.8 752.9 L1466.2 747.3 L1468.4 764.1 L1470.5 766.5 L1472.0 766.9 L1473.5 766.5 L1475.3 764.7 L1475.7 763.5 L1477.8 745.8 L1482.0 743.3 L1482.8 742.1 L1484.3 728.5 L1489.3 727.8 L1493.4 730.9 L1495.4 731.5 L1501.1 728.5 L1507.5 727.1 L1508.7 725.9 L1512.2 720.1 L1516.9 715.8 L1517.4 714.2 L1518.1 698.3 L1524.7 695.8 L1526.0 694.0 L1526.8 663.7 L1532.5 660.8 L1534.8 669.4 L1537.1 671.3 L1539.4 671.3 L1540.9 670.2 L1541.8 669.0 L1543.3 655.1 L1548.5 653.9 L1549.9 653.2 L1555.6 644.3 L1560.0 646.5 L1560.4 648.5 L1562.2 649.9 L1567.1 650.0 L1569.1 649.3 L1571.7 645.5 L1572.3 644.0 L1573.7 613.2 L1577.8 615.4 L1579.5 615.3 L1587.0 610.0 L1593.0 607.6 L1593.8 630.3 L1594.2 631.7 L1595.1 632.7 L1598.6 635.0 L1599.9 635.5 L1601.4 635.3 L1604.9 632.8 L1605.5 632.1 L1606.1 630.4 L1606.8 580.2 L1611.0 581.4 L1614.1 588.6 L1616.2 590.5 L1618.3 591.2 L1619.7 590.8 L1621.9 588.2 L1622.7 575.7 L1627.7 575.6 L1633.2 572.0 L1634.2 570.9 L1636.2 564.3 L1639.2 565.9 L1643.8 570.5 L1645.7 571.4 L1647.2 571.2 L1654.7 567.9 L1655.6 566.9 L1660.6 557.4 L1662.4 549.7 L1665.8 548.4 L1670.1 554.2 L1672.3 554.9 L1674.5 554.1 L1678.8 549.8 L1681.1 558.4 L1683.3 560.6 L1685.4 561.0 L1686.7 560.3 L1688.2 558.7 L1689.7 551.1 L1694.0 539.7 L1702.6 539.7 L1705.5 552.8 L1709.5 564.8 L1710.4 566.2 L1713.1 568.3 L1715.3 568.4 L1717.0 567.5 L1718.1 566.3 L1725.6 552.6 L1727.3 535.4 L1731.4 536.8 L1733.4 557.2 L1734.0 558.6 L1736.2 560.7 L1738.3 561.4 L1739.7 560.9 L1741.4 559.8 L1744.4 554.0 L1750.1 546.9 L1755.0 548.3 L1756.7 565.1 L1757.6 566.4 L1759.4 567.9 L1761.6 568.0 L1762.8 567.3 L1764.4 565.6 L1767.4 555.6 L1771.0 552.7 L1772.4 560.9 L1773.3 562.0 L1776.0 564.1 L1778.5 564.0 L1781.3 562.5 L1784.7 559.9 L1786.9 575.3 L1789.2 577.7 L1791.6 578.4 L1794.5 576.6 L1795.4 575.2 L1796.2 558.4 L1799.1 558.5 L1803.3 561.3 L1805.0 561.3 L1806.7 560.5 L1808.0 558.7 L1810.6 548.4 L1814.9 545.5 L1816.4 561.5 L1819.1 573.5 L1819.7 574.8 L1822.2 577.6 L1823.7 578.1 L1825.2 577.8 L1826.9 576.5 L1827.8 575.2 L1828.6 567.8 L1831.5 567.8 L1832.9 575.3 L1835.1 577.6 L1837.2 578.2 L1839.2 577.4 L1840.7 575.5 L1841.6 567.1 L1844.2 566.0 L1845.9 571.3 L1848.6 574.1 L1850.1 574.5 L1851.6 574.1 L1854.2 571.6 L1854.6 570.2 L1856.0 547.1 L1858.0 546.2 L1860.3 554.4 L1864.0 561.8 L1864.9 562.8 L1868.0 564.2 L1870.2 564.3 L1874.1 561.5 L1874.7 560.0 L1876.0 551.2 L1886.1 549.1 L1894.7 551.2 L1896.2 563.7 L1897.1 565.0 L1899.2 566.6 L1901.7 566.6 L1905.5 563.4 L1906.5 561.7 L1907.7 555.6 L1910.6 554.9 L1914.9 559.2 L1916.5 560.0 L1918.2 559.9 L1923.5 557.7 L1925.8 564.1 L1928.5 566.9 L1930.0 567.3 L1931.5 566.9 L1934.3 564.1 L1941.6 541.9 L1944.4 542.6 L1946.0 548.3 L1949.4 551.1 L1951.1 551.3 L1959.7 547.0 L1960.6 545.6 L1962.4 538.3 L1965.3 539.0 L1966.8 551.3 L1969.4 565.6 L1971.1 567.1 L1977.5 567.8 L1979.4 571.8 L1981.6 573.9 L1983.2 574.3 L1984.8 573.7 L1986.8 571.0 L1987.8 552.5 L1989.8 549.8 L1991.6 552.3 L1994.2 554.2 L1995.8 554.7 L1997.3 554.3 L2000.7 551.2 L2006.0 547.1 L2006.6 545.9 L2008.5 538.3 L2011.4 539.7 L2012.9 552.1 L2014.0 553.4 L2016.9 555.3 L2018.2 555.4 L2024.2 554.8 L2029.0 555.4 L2030.4 555.2 L2034.4 552.6 L2038.8 546.2 L2041.0 548.5 L2043.9 553.6 L2045.8 554.5 L2049.5 554.1 L2051.8 558.4 L2054.6 560.8 L2056.1 561.5 L2057.7 561.2 L2063.9 558.3 L2067.6 552.7 L2076.0 547.0 L2083.6 546.3 L2087.0 548.5 L2088.5 573.8 L2090.6 576.5 L2092.8 577.3 L2094.3 576.9 L2096.9 574.2 L2098.5 565.6 L2103.4 565.1 L2106.4 563.1 L2107.1 561.9 L2107.9 534.0 L2113.7 535.4 L2114.5 549.8 L2116.0 553.3 L2116.6 558.7 L2120.6 573.4 L2121.4 574.8 L2124.0 577.3 L2126.0 578.2 L2128.0 577.5 L2130.9 574.9 L2133.0 568.9 L2134.2 547.3 L2135.2 540.2 L2138.9 539.0 L2141.4 545.6 L2144.5 547.6 L2146.2 547.6 L2147.0 547.2 L2148.5 546.2 L2149.6 544.9 L2151.2 531.8 L2156.9 531.1 L2159.8 541.3 L2161.3 557.9 L2163.8 560.5 L2166.0 561.2 L2169.4 559.3 L2170.5 557.6 L2171.3 528.2 L2175.6 528.2 L2177.9 535.3 L2185.7 541.2 L2187.1 547.9 L2190.3 550.6 L2191.8 551.1 L2194.0 550.5 L2196.4 547.9 L2198.0 531.1 L2207.8 531.8 L2215.9 531.1 L2217.3 548.3 L2217.9 550.0 L2219.0 550.9 L2220.6 551.4 L2222.8 550.6 L2226.8 543.9 L2231.1 539.0 L2233.7 542.2 L2237.1 544.5 L2239.3 544.4 L2242.5 541.9 L2243.5 540.0 L2245.5 526.8 L2248.2 525.4 L2250.5 532.1 L2252.6 533.9 L2254.7 534.4 L2256.6 533.4 L2259.6 529.9 L2262.8 523.9 L2266.6 526.8 L2268.9 527.4 L2270.3 526.7 L2275.7 522.5 L2278.7 526.7 L2281.6 528.2 L2282.9 528.5 L2284.3 528.2 L2289.1 525.7 L2290.1 523.4 L2290.1 504.6 L2289.6 502.9 L2287.3 499.4 L2286.6 490.5 L2286.1 489.1 L2282.5 486.0 L2280.3 485.9 L2277.3 487.9 L2275.0 493.6 L2270.0 493.6 L2267.7 476.8 L2266.8 475.6 L2263.7 473.3 L2262.4 472.7 L2260.3 473.2 L2258.4 474.5 L2257.7 475.7 L2256.8 487.9 L2253.4 487.8 L2252.7 477.5 L2251.9 475.5 L2250.1 473.8 L2248.7 473.0 L2247.0 473.0 L2244.5 474.7 L2243.8 476.2 L2242.6 485.0 L2237.9 488.5 L2236.9 489.8 L2235.4 509.4 L2226.8 506.6 L2224.0 484.4 L2223.3 482.9 L2220.3 479.2 L2219.5 466.8 L2218.5 465.4 L2216.1 463.9 L2213.9 464.4 L2210.7 467.8 L2204.9 471.3 L2203.7 472.6 L2201.5 486.4 L2195.5 485.9 L2194.1 486.5 L2191.2 489.1 L2190.7 490.6 L2190.0 510.9 L2184.3 509.4 L2182.1 493.0 L2180.8 491.4 L2177.1 489.3 L2176.3 473.9 L2175.5 472.6 L2173.5 470.8 L2172.0 470.4 L2170.5 470.8 L2168.1 473.2 L2167.6 474.6 L2166.9 492.2 L2164.1 492.2 L2163.4 460.3 L2163.0 458.8 L2161.1 456.8 L2159.0 455.9 L2156.9 456.7 L2154.5 459.5 L2154.0 483.3 L2151.6 487.2 L2151.1 488.7 L2150.4 503.0 L2146.8 503.7 L2144.5 493.7 L2140.8 490.3 L2138.5 489.6 L2135.6 491.3 L2134.5 493.5 L2133.8 506.6 L2128.1 512.7 L2126.4 524.6 L2123.7 524.6 L2122.3 508.2 L2120.0 497.3 L2117.1 494.1 L2115.6 493.5 L2114.0 493.8 L2108.6 496.5 L2107.0 489.4 L2104.1 486.4 L2102.5 486.1 L2101.0 486.6 L2098.6 489.7 L2097.8 500.8 L2087.7 503.0 L2077.6 510.2 L2071.9 510.9 L2070.6 504.5 L2069.9 503.1 L2067.6 500.6 L2066.1 500.1 L2064.5 500.5 L2055.0 509.2 L2054.5 510.7 L2053.9 518.8 L2051.0 517.9 L2047.4 496.9 L2046.6 495.8 L2042.8 492.6 L2041.2 492.4 L2039.7 493.0 L2036.3 495.6 L2035.3 497.0 L2034.2 516.7 L2031.6 516.6 L2030.2 496.9 L2029.8 495.5 L2027.1 492.9 L2025.0 492.6 L2023.7 493.2 L2021.6 495.1 L2019.3 501.5 L2015.7 502.2 L2014.5 496.6 L2013.7 495.2 L2011.1 492.7 L2009.4 492.4 L2007.9 492.9 L2005.0 495.1 L2002.2 500.4 L2000.6 510.2 L1996.5 510.9 L1994.0 499.4 L1991.3 496.7 L1989.0 496.4 L1987.7 497.2 L1985.6 499.4 L1982.7 510.6 L1981.9 529.5 L1980.4 532.5 L1976.0 528.7 L1972.5 522.4 L1971.1 503.4 L1970.7 502.0 L1968.5 499.7 L1966.2 498.8 L1964.7 499.3 L1963.0 500.5 L1958.8 506.5 L1957.2 496.6 L1954.7 494.0 L1952.3 493.8 L1951.0 494.7 L1949.6 496.5 L1948.7 503.0 L1945.9 503.7 L1944.3 496.6 L1941.6 493.8 L1939.3 493.5 L1938.0 494.3 L1935.9 496.9 L1935.1 517.9 L1932.9 524.6 L1929.3 525.3 L1927.7 516.7 L1924.6 513.6 L1923.0 513.2 L1920.4 514.5 L1919.3 515.8 L1917.8 526.7 L1915.6 526.7 L1914.8 492.6 L1912.0 489.3 L1911.4 480.3 L1910.9 479.0 L1908.3 476.3 L1906.9 475.9 L1905.5 476.2 L1903.4 477.8 L1899.8 485.0 L1899.1 517.9 L1896.2 522.4 L1891.9 522.4 L1890.3 507.8 L1889.3 506.5 L1883.2 502.2 L1881.7 496.5 L1879.3 493.4 L1878.2 492.6 L1876.0 492.5 L1873.5 494.8 L1873.1 496.2 L1872.4 510.7 L1870.0 514.6 L1869.5 516.0 L1867.9 533.9 L1865.9 533.9 L1863.9 520.1 L1860.0 513.3 L1860.0 501.9 L1859.3 500.0 L1855.1 495.3 L1853.7 494.8 L1852.2 495.0 L1846.6 499.4 L1841.8 500.1 L1840.5 500.9 L1839.8 502.2 L1837.9 509.4 L1832.9 508.0 L1831.4 486.8 L1829.3 484.2 L1827.2 483.3 L1825.0 484.2 L1822.9 486.9 L1822.1 512.3 L1819.3 512.3 L1816.1 508.3 L1814.8 507.4 L1813.3 507.2 L1811.8 507.8 L1810.2 509.3 L1809.7 510.5 L1807.0 523.8 L1804.4 516.0 L1803.5 514.7 L1799.2 511.0 L1796.2 507.5 L1795.0 506.7 L1793.5 506.5 L1789.7 508.0 L1788.1 502.3 L1785.9 500.3 L1784.4 499.6 L1782.0 500.3 L1779.7 502.8 L1778.9 521.0 L1776.1 521.0 L1774.5 503.7 L1771.8 500.0 L1769.6 499.4 L1767.0 500.4 L1765.8 501.2 L1761.6 509.4 L1755.6 504.3 L1754.2 503.8 L1752.1 504.5 L1747.3 510.9 L1744.3 523.8 L1740.0 524.6 L1735.0 495.4 L1734.2 494.4 L1728.5 489.3 L1726.1 487.3 L1724.6 486.6 L1723.0 486.9 L1720.9 488.4 L1719.8 490.7 L1719.1 519.5 L1716.3 519.5 L1714.8 502.7 L1712.6 500.0 L1711.1 499.2 L1709.4 499.3 L1705.5 500.8 L1702.9 499.3 L1701.4 499.2 L1700.0 499.8 L1698.2 502.2 L1692.1 501.6 L1690.2 502.0 L1688.2 503.2 L1687.1 504.5 L1682.4 513.7 L1674.0 506.2 L1672.7 505.9 L1666.6 505.9 L1658.7 510.1 L1657.6 511.1 L1657.1 512.6 L1656.4 522.6 L1652.0 535.4 L1646.4 536.1 L1643.4 526.8 L1640.2 523.9 L1638.1 523.2 L1636.6 523.7 L1634.7 525.1 L1634.1 526.7 L1633.4 533.9 L1630.6 535.4 L1623.1 523.6 L1619.3 519.9 L1617.7 519.5 L1616.1 520.1 L1614.2 522.5 L1613.3 539.0 L1609.7 538.2 L1608.9 512.9 L1607.9 511.5 L1605.9 509.9 L1603.4 509.9 L1600.8 512.1 L1600.3 513.7 L1598.9 541.8 L1585.5 547.6 L1583.9 549.4 L1583.0 581.4 L1581.4 581.3 L1579.4 560.3 L1576.9 557.0 L1575.5 556.5 L1574.0 556.6 L1571.4 559.2 L1570.7 560.7 L1565.7 591.5 L1561.6 594.5 L1560.3 596.0 L1559.8 601.7 L1554.0 599.1 L1552.5 598.8 L1550.5 599.8 L1546.9 603.9 L1542.6 602.6 L1540.4 603.4 L1539.6 604.8 L1537.5 611.8 L1530.8 613.5 L1529.3 614.4 L1528.9 615.1 L1527.4 623.4 L1524.8 625.5 L1523.9 626.7 L1522.4 639.2 L1515.6 644.8 L1515.0 646.1 L1513.8 653.6 L1505.7 649.4 L1503.4 649.7 L1501.2 651.9 L1500.8 653.4 L1500.1 683.1 L1492.2 682.4 L1484.6 677.4 L1483.2 676.9 L1481.6 677.2 L1480.1 678.9 L1478.5 683.8 L1473.5 686.1 L1472.0 687.7 L1470.6 697.5 L1461.2 699.0 L1459.7 685.8 L1458.8 684.5 L1456.7 682.9 L1455.0 682.6 L1453.5 683.3 L1451.6 685.1 L1451.1 686.7 L1450.4 714.8 L1445.4 718.1 L1444.6 720.0 L1443.2 743.6 L1433.9 742.9 L1433.1 726.1 L1432.3 724.8 L1430.3 723.0 L1428.8 722.5 L1427.3 723.0 L1419.5 730.6 L1418.8 731.8 L1417.3 745.9 L1413.7 759.5 L1409.2 759.2 L1407.3 760.0 L1404.3 760.0 L1400.6 739.4 L1397.4 736.4 L1395.9 736.1 L1394.5 736.5 L1392.0 738.9 L1391.3 740.1 L1390.5 749.8 L1387.8 751.9 L1386.9 753.1 L1385.9 760.0 L1384.6 760.9 L1383.9 762.3 L1381.4 776.0 L1374.9 790.7 L1373.4 803.0 L1369.7 802.1 L1368.2 802.1 L1358.4 807.5 L1356.8 797.5 L1354.2 794.8 L1352.7 794.4 L1351.2 794.8 L1348.5 797.5 L1346.9 804.6 L1343.1 806.8 L1341.9 808.1 L1340.4 816.1 L1337.0 815.3 L1335.4 815.4 L1333.6 816.9 L1331.0 821.9 L1325.9 821.4 L1324.3 822.2 L1322.1 824.6 L1321.6 826.0 L1321.0 840.6 L1317.4 839.9 L1313.4 833.3 L1312.0 832.5 L1310.5 832.5 L1304.9 835.6 L1303.7 836.9 L1301.5 849.3 L1298.0 849.3 L1296.5 838.2 L1293.9 835.3 L1291.4 835.1 L1290.1 836.1 L1286.5 840.7 L1285.0 859.4 L1278.5 860.8 L1274.8 853.7 L1264.8 845.0 L1264.1 810.2 L1263.2 808.1 L1260.5 806.0 L1258.3 806.3 L1255.6 809.0 L1251.1 839.2 L1247.5 839.2 L1246.7 809.4 L1245.0 807.2 L1242.7 806.3 L1241.1 806.8 L1238.2 808.9 L1237.5 790.3 L1236.7 788.4 L1234.7 787.0 L1233.1 786.5 L1231.5 786.8 L1228.1 788.8 L1227.6 784.0 L1228.9 782.6 L1229.0 781.0 L1228.1 774.2 L1226.6 769.4 L1224.3 734.7 L1221.0 724.4 L1219.9 723.4 L1215.1 722.1 L1215.1 687.8 L1212.2 668.7 L1212.3 607.0 L1211.6 605.1 L1208.8 601.6 L1208.0 565.0 L1207.6 563.5 L1204.4 558.2 L1203.7 475.9 L1203.1 474.1 L1199.4 469.1 L1198.6 453.3 L1195.1 447.3 L1194.8 430.2 L1195.3 428.3 L1194.7 393.8 L1192.5 388.7 L1191.8 365.2 L1191.3 363.6 L1188.9 359.8 L1188.9 324.1 L1188.2 314.3 L1182.5 295.4 L1181.7 277.9 L1180.9 276.6 L1179.6 275.9 L1176.2 275.1 L1172.4 275.0 L1171.5 230.9 L1170.6 229.5 L1167.7 227.7 L1165.4 228.4 L1163.0 230.9 L1159.4 260.6 L1153.6 262.8 L1146.4 261.7 L1145.0 262.2 L1144.0 263.3 L1139.6 271.5 L1139.2 272.9 L1139.2 303.8 L1134.9 306.7 L1131.5 305.4 L1131.3 273.9 L1129.1 262.5 L1125.5 258.9 L1123.4 258.2 L1121.4 259.0 L1116.9 263.5 L1109.1 245.0 L1108.4 235.1 L1107.8 233.6 L1106.6 232.6 L1103.5 231.3 L1098.9 230.4 L1098.2 209.1 L1092.0 181.6 L1091.9 174.0 L1089.1 168.0 L1087.7 157.6 L1086.9 156.4 L1082.6 153.7 L1081.9 111.5 L1080.6 109.8 L1077.6 107.9 L1072.6 107.8 L1071.9 84.8 L1071.1 82.9 L1069.2 81.5 L1068.4 81.1 L1066.7 81.1 L1064.0 82.8 L1062.9 84.2 L1058.8 94.7 L1056.1 99.2 L1055.0 104.0 L1052.4 112.1 L1048.4 111.2 L1046.7 111.2 L1045.4 112.2 L1043.1 115.0 L1040.2 127.9 L1038.7 141.0 L1036.6 140.9 L1035.9 101.8 L1035.5 100.3 L1033.0 97.5 L1032.3 53.0 L1031.8 51.4 L1029.0 49.1 L1026.7 49.0 L1023.0 51.7 L1020.2 58.3 L1018.5 96.3 L1013.5 97.7 L1012.0 84.6 L1009.6 82.1 L1008.1 81.4 L1006.5 81.7 L1003.7 83.9 L1001.9 90.6 L997.3 94.0 L996.3 95.4 L994.7 127.3 L989.7 127.3 L988.2 111.1 L984.0 106.4 L982.4 102.2 L979.6 99.6 L977.5 98.9 L975.5 99.7 L973.2 102.5 L971.7 114.9 L968.1 124.4 L964.5 122.2 L962.2 114.4 L959.2 111.9 L957.6 111.7 L956.1 112.3 L953.8 114.8 L953.0 128.0 L950.1 128.0 L948.6 112.6 L945.9 109.8 L944.3 109.2 L942.6 109.5 L940.0 110.7 L939.2 94.7 L938.1 93.3 L935.6 91.7 L933.1 91.9 L930.7 94.1 L930.0 95.3 L929.2 106.4 L924.3 105.3 L921.6 107.0 L920.7 108.4 L919.9 120.6 L917.8 123.7 L916.2 130.9 L911.3 131.0 L908.1 133.0 L907.0 134.3 L906.8 135.2 L906.2 142.4 L902.2 143.3 L899.2 144.9 L897.8 146.2 L896.1 149.6 L891.1 150.4 L887.1 153.7 L886.6 155.1 L885.3 166.9 L871.6 160.8 L867.7 162.4 L863.7 166.2 L855.1 166.9 L853.1 164.3 L850.5 162.0 L849.0 161.4 L847.4 161.6 L845.2 163.2 L844.3 164.5 L843.5 172.7 L841.3 174.9 L840.5 176.5 L838.5 187.7 L836.3 165.1 L834.0 162.4 L832.0 161.5 L829.9 162.2 L827.9 163.9 L827.0 165.2 L826.2 175.5 L823.1 178.9 L819.0 187.8 L814.7 187.8 L812.5 168.0 L810.7 165.8 L809.3 165.0 L807.7 165.0 L804.6 166.9 L798.4 167.9 L795.5 169.4 L794.5 171.5 L793.8 182.0 L788.8 181.4 L780.9 184.2 L777.2 177.1 L773.5 174.9 L771.2 175.2 L768.5 177.8 L767.5 179.6 L766.4 199.5 L764.9 199.3 L762.9 188.9 L761.9 187.7 L759.5 187.1 L757.4 187.6 L755.1 190.2 L747.3 192.2 L745.9 193.8 L744.3 198.1 L741.4 198.8 L738.5 193.8 L737.2 173.3 L736.3 171.4 L734.1 169.4 L732.7 168.9 L731.3 169.3 L728.2 171.9 L727.7 173.5 L727.0 188.0 L725.0 188.0 L721.9 174.2 L720.8 172.9 L718.6 171.7 L716.9 171.3 L715.4 171.9 L712.8 173.6 L711.9 174.8 L710.4 181.5 L703.1 186.4 L702.1 187.5 L701.7 188.8 L701.1 209.4 L698.9 211.0 L692.3 201.7 L690.8 200.7 L687.4 199.5 L686.8 188.4 L686.2 186.9 L685.0 185.8 L682.1 184.6 L674.5 183.7 L673.6 158.2 L672.9 156.9 L670.9 155.1 L668.6 154.8 L665.9 156.9 L665.0 159.0 L664.3 188.0 L661.5 188.7 L660.0 185.2 L656.8 182.0 L650.5 178.7 L648.2 179.1 L645.7 181.5 L645.0 182.7 L644.2 193.6 L642.0 199.5 L638.4 199.5 L637.2 192.7 L636.6 191.4 L633.9 189.2 L632.2 189.0 L630.7 189.6 L628.3 191.6 L623.1 191.1 L621.6 191.7 L618.3 194.9 L616.8 202.4 L609.6 206.7 L606.0 203.8 L603.7 194.6 L601.0 192.3 L598.9 192.1 L596.3 194.3 L595.8 195.6 L595.2 202.4 L592.4 205.7 L590.7 221.8 L587.3 221.1 L586.4 209.7 L583.0 205.3 L580.7 198.2 L577.7 195.7 L576.1 195.4 L574.6 196.1 L572.2 198.5 L570.7 207.4 L566.2 210.3 L565.0 211.6 L563.5 221.1 L555.6 224.0 L549.4 222.0 L544.8 218.2 L543.4 204.1 L542.4 202.8 L538.4 201.0 L537.7 195.7 L537.2 194.3 L534.8 192.3 L532.6 192.1 L531.4 192.8 L529.0 195.6 L527.5 216.1 L514.1 214.7 L510.7 212.2 L509.1 212.0 L507.6 212.6 L505.9 214.4 L504.5 222.6 L501.6 222.6 L500.3 211.1 L499.9 209.2 L499.2 207.9 L497.9 207.1 L495.6 206.6 L494.2 206.9 L490.9 208.5 L489.5 210.1 L487.3 221.9 L483.1 221.1 L480.5 222.8 L479.5 224.1 L478.5 236.7 L476.5 238.0 L472.6 233.5 L469.4 231.5 L467.8 231.4 L464.9 233.0 L463.5 234.5 L462.1 245.2 L452.1 241.4 L450.6 241.5 L447.5 243.6 L446.9 245.2 L445.5 261.0 L442.7 260.9 L441.2 220.1 L440.5 218.9 L437.8 217.1 L436.0 217.1 L435.3 217.5 L433.3 218.9 L432.6 220.1 L431.9 238.0 L427.5 245.2 L423.3 246.6 L421.2 238.5 L418.0 233.1 L416.6 231.9 L414.0 230.8 L411.7 230.7 L408.5 232.9 L407.5 234.2 L405.9 248.1 L400.9 256.7 L395.9 257.4 L394.3 245.3 L392.1 242.6 L389.9 242.1 L388.2 243.0 L387.3 244.3 L385.8 256.7 L378.6 256.7 L372.9 250.4 L371.5 249.6 L369.9 249.6 L368.6 250.5 L365.8 253.7 L362.3 256.1 L361.3 257.2 L359.0 267.5 L355.6 266.8 L351.8 248.2 L349.9 246.0 L348.6 245.3 L347.1 245.2 L345.6 245.9 L344.4 246.9 L343.9 248.4 L343.3 261.1 L341.1 263.3 L340.2 264.8 L337.3 278.3 L329.6 278.3 L326.6 269.8 L323.2 266.8 L320.9 260.0 L319.2 258.2 L313.8 257.5 L306.6 259.6 L303.0 258.2 L302.1 239.5 L300.0 236.6 L298.4 236.0 L296.8 236.3 L295.6 237.4 L294.3 240.3 L293.6 282.7 L283.6 298.3 L279.9 296.9 L278.5 272.8 L275.8 258.9 L275.1 257.6 L272.9 255.0 L271.5 254.5 L270.0 254.7 L268.8 255.2 L267.9 256.3 L264.3 263.5 L261.9 278.3 L256.9 279.8 L253.2 269.7 L248.9 265.5 L248.1 265.2 L246.4 265.4 L244.9 266.4 L244.3 267.6 L241.8 278.3 L235.2 274.5 L233.8 274.4 L231.8 275.2 L230.7 277.1 L228.8 287.0 L221.6 289.2 L219.8 290.6 L219.4 292.1 L219.6 315.7 L221.7 318.5Z"/>
<!-- y axis -->
<g fill="#000" filter="url(#b1)">
<rect x="129.6" y="227" width="8.2" height="1593"/>
<rect x="134" y="368" width="19" height="6.4"/>
<rect x="134" y="568" width="36" height="6.4"/>
<rect x="134" y="768" width="19" height="6.4"/>
<rect x="134" y="967" width="36" height="6.4"/>
<rect x="134" y="1167" width="19" height="6.4"/>
<rect x="134" y="1366" width="36" height="6.4"/>
<rect x="134" y="1565" width="19" height="6.4"/>
<rect x="134" y="1764" width="43" height="6.4"/>
</g>
<!-- legend samples -->
<g filter="url(#b1)"><line x1="252" y1="1218" x2="334" y2="1218" stroke="#000" stroke-width="10" stroke-linecap="round"/>
<line x1="242" y1="1430.5" x2="327" y2="1430.5" stroke="#e00000" stroke-width="10" stroke-linecap="round"/></g>
</svg>
<div class="t tick" id="x0" style="left:186px;top:1793px;">0</div>
<div class="t tick" id="x1" style="left:441px;top:1793px;">100</div>
<div class="t tick" id="x2" style="left:740px;top:1790px;">200</div>
<div class="t tick" id="x3" style="left:1038px;top:1790px;">300</div>
<div class="t tick" id="x4" style="left:1338px;top:1792px;">400</div>
<div class="t tick" id="x5" style="left:1635px;top:1790px;">500</div>
<div class="t tick" id="x6" style="left:1948px;top:1796px;">600</div>
<div class="t tick" id="x7" style="left:2239.5px;top:1796px;">700</div>
<div class="t" id="xlab" style="left:1104px;top:1904px;font-size:96px;">B, mT</div>
<div class="t" id="ylab" style="left:0;top:0;font-size:105px;transform-origin:0 0;transform:translate(3px,1284.5px) rotate(-90deg);color:#111;">Int., arb. units</div>
<div class="t" id="leg1" style="left:344px;top:1174px;font-size:91.2px;">Bi<sub>2</sub>Fe<sub>0.5</sub>Mg<sub>0.5</sub>Ta<sub>2</sub>O<sub>9.5-Δ</sub></div>
<div class="t" id="leg2" style="left:340.5px;top:1383px;font-size:91.2px;">Bi<sub>2</sub>FeTa<sub>2</sub>O<sub>9.5</sub></div>
<div class="t" id="freq" style="left:286px;top:1669px;font-size:70.3px;">9401 MHz, 300 K</div>
<div class="t" id="gval" style="left:1012.5px;top:1643px;font-size:80px;">2.003</div>
</body>
</html>
